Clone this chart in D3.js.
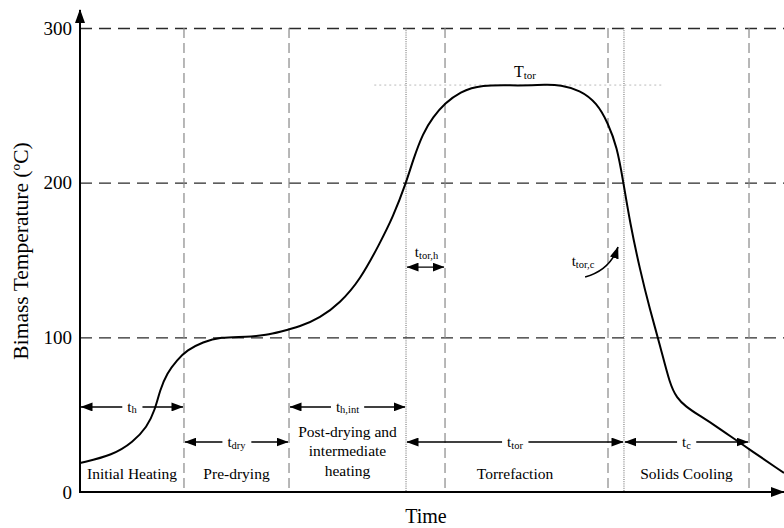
<!DOCTYPE html>
<html>
<head>
<meta charset="utf-8">
<script src="https://cdn.jsdelivr.net/npm/d3@7"></script>
<style>
  html, body { margin: 0; padding: 0; background: #fff; }
  svg { display: block; font-family: "Liberation Serif", "DejaVu Serif", serif; }
</style>
</head>
<body>
<svg id="chart" width="784" height="528"></svg>
<script>
// ---------- data ----------
const yTicks = [0, 100, 200, 300];
const gridTemps = [100, 200, 300];
const dashedTimes = [14.77, 29.69, 51.85, 75.0, 95.03];
const dottedTimes = [46.31, 77.27];

const curveTime = [0, 4.69, 7.53, 9.52, 10.65, 11.36, 12.36, 13.78, 15.2, 17.47, 19.89, 23.72, 26.56, 28.41, 31.25, 34.09, 36.93, 39.77, 42.61, 44.46, 46.31, 47.3, 48.72, 50.14, 51.85, 53.98, 56.82, 62.5, 66.34, 68.18, 71.02, 73.44, 75.0, 76.28, 77.13, 78.13, 79.55, 80.97, 82.39, 83.81, 84.8, 85.94, 88.07, 89.91, 93.75, 100];
const curveTemp = [18.7, 23.9, 32.3, 42.0, 53.0, 65.9, 76.9, 85.3, 91.8, 97.0, 100.2, 100.2, 101.5, 103.6, 106.9, 112.5, 122.2, 137.0, 161.0, 177.8, 199.7, 214.6, 232.1, 242.4, 251.5, 258.6, 263.5, 262.6, 263.5, 263.1, 259.9, 251.5, 238.5, 223.0, 201.7, 173.9, 143.5, 117.6, 95.0, 69.2, 60.8, 55.6, 49.1, 44.0, 31.7, 12.3];

const phaseNames = [["Initial Heating"], ["Pre-drying"], ["Post-drying and", "intermediate", "heating"], ["Torrefaction"], ["Solids Cooling"]];
const phaseStart = [0, 14.77, 29.69, 46.31, 77.27];
const phaseEnd   = [14.77, 29.69, 46.31, 77.27, 95.03];

const intervalMain = ["t", "t", "t", "t", "t", "t"];
const intervalSub  = ["h", "dry", "h,int", "tor", "c", "tor,h"];
const intervalFrom = [0, 14.77, 29.69, 46.31, 77.27, 46.31];
const intervalTo   = [14.77, 29.69, 46.31, 77.27, 95.03, 51.85];
const intervalTemp = [55, 32.3, 55, 32.3, 32.3, 145.4];

const torTemp = 263.1;
const torLineFrom = 41.8, torLineTo = 83.0;

// ---------- layout ----------
const svg = d3.select("#chart");
const x = d3.scaleLinear().domain([0, 100]).range([80, 784]);
const y = d3.scaleLinear().domain([0, 300]).range([492, 28]);

const defs = svg.append("defs");
defs.append("marker").attr("id", "ah")
  .attr("markerUnits", "userSpaceOnUse")
  .attr("markerWidth", 12).attr("markerHeight", 9)
  .attr("refX", 11.5).attr("refY", 4.5)
  .attr("orient", "auto-start-reverse")
  .append("path").attr("d", "M0,0 L12,4.5 L0,9 Z").attr("fill", "#000");
defs.append("marker").attr("id", "axh")
  .attr("markerUnits", "userSpaceOnUse")
  .attr("markerWidth", 14).attr("markerHeight", 10)
  .attr("refX", 13).attr("refY", 5)
  .attr("orient", "auto")
  .append("path").attr("d", "M0,0 L14,5 L0,10 Z").attr("fill", "#000");

// horizontal dashed gridlines (via axis)
const grid = svg.append("g")
  .attr("transform", `translate(${x(0)},0)`)
  .call(d3.axisLeft(y).tickValues(gridTemps).tickSize(-(x(100) - x(0))).tickFormat(""));
grid.select(".domain").remove();
grid.selectAll(".tick line")
  .attr("stroke", "#2a2a2a").attr("stroke-width", 1.3).attr("stroke-dasharray", "12,7");

// vertical dashed lines
svg.append("g").selectAll("line").data(dashedTimes).join("line")
  .attr("x1", d => x(d)).attr("x2", d => x(d))
  .attr("y1", y(300)).attr("y2", y(0))
  .attr("stroke", "#888").attr("stroke-width", 1.2).attr("stroke-dasharray", "10,5");

// vertical dotted lines
svg.append("g").selectAll("line").data(dottedTimes).join("line")
  .attr("x1", d => x(d)).attr("x2", d => x(d))
  .attr("y1", y(300)).attr("y2", y(0))
  .attr("stroke", "#666").attr("stroke-width", 1).attr("stroke-dasharray", "1,1.2");

// T_tor dotted line
svg.append("line")
  .attr("x1", x(torLineFrom)).attr("x2", x(torLineTo))
  .attr("y1", y(torTemp)).attr("y2", y(torTemp))
  .attr("stroke", "#bbb").attr("stroke-width", 1).attr("stroke-dasharray", "2,3");

// y tick labels (axis)
const yAxis = svg.append("g")
  .attr("transform", `translate(${x(0)},0)`)
  .call(d3.axisLeft(y).tickValues(yTicks).tickSize(0).tickPadding(8));
yAxis.select(".domain").remove();
yAxis.selectAll("text")
  .attr("font-family", "Liberation Serif, DejaVu Serif, serif")
  .attr("font-size", 19).attr("fill", "#000");

// axes lines with arrows
svg.append("line")
  .attr("x1", x(0)).attr("x2", x(0)).attr("y1", y(0) + 1).attr("y2", 10)
  .attr("stroke", "#000").attr("stroke-width", 2).attr("marker-end", "url(#axh)");
svg.append("line")
  .attr("x1", x(0) - 1).attr("x2", 784).attr("y1", y(0)).attr("y2", y(0))
  .attr("stroke", "#000").attr("stroke-width", 2).attr("marker-end", "url(#axh)");

// axis titles
svg.append("text")
  .attr("transform", `translate(28,251) rotate(-90)`)
  .attr("text-anchor", "middle").attr("font-size", 21.5)
  .text("Bimass Temperature (ºC)");
svg.append("text")
  .attr("x", 426).attr("y", 523)
  .attr("text-anchor", "middle").attr("font-size", 20)
  .text("Time");

// curve
const pts = curveTime.map((t, i) => [t, curveTemp[i]]);
svg.append("path")
  .datum(pts)
  .attr("fill", "none").attr("stroke", "#000").attr("stroke-width", 2)
  .attr("d", d3.line().x(d => x(d[0])).y(d => y(d[1])).curve(d3.curveBasis));

// phase labels
phaseNames.forEach((lines, i) => {
  const cx = (x(phaseStart[i]) + x(phaseEnd[i])) / 2;
  const n = lines.length;
  lines.forEach((s, j) => {
    svg.append("text")
      .attr("x", cx).attr("y", 479 - (n - 1 - j) * 19.2 - (n > 1 ? 3.5 : 0))
      .attr("text-anchor", "middle").attr("font-size", 15.5)
      .text(s);
  });
});

// subscript label helper
function subLabel(g, cx, baseline, main, sub, mainSize, subSize, bg) {
  const t = g.append("text").attr("x", cx).attr("y", baseline)
    .attr("text-anchor", "middle").attr("font-size", mainSize);
  t.append("tspan").text(main);
  t.append("tspan").attr("font-size", subSize).attr("dy", 1.5).text(sub);
  if (bg) {
    const bb = t.node().getBBox();
    g.insert("rect", () => t.node())
      .attr("x", bb.x - 5).attr("y", bb.y + 2).attr("width", bb.width + 10).attr("height", bb.height - 4)
      .attr("fill", "#fff");
  }
  return t;
}

// interval arrows
intervalSub.forEach((sub, i) => {
  const g = svg.append("g");
  const yy = y(intervalTemp[i]);
  g.append("line")
    .attr("x1", x(intervalFrom[i]) + 1).attr("x2", x(intervalTo[i]) - 1)
    .attr("y1", yy).attr("y2", yy)
    .attr("stroke", "#000").attr("stroke-width", 1.4)
    .attr("marker-start", "url(#ah)").attr("marker-end", "url(#ah)");
  const cx = (x(intervalFrom[i]) + x(intervalTo[i])) / 2;
  if (i === 5) {
    subLabel(g, cx + 1, yy - 10, intervalMain[i], sub, 15, 10.5, false);
  } else {
    subLabel(g, cx, yy + 5, intervalMain[i], sub, 15, 10.5, true);
  }
});

// T_tor label
subLabel(svg, x(63.2), y(torTemp) - 8, "T", "tor", 16, 11, false);

// t_tor,c curved arrow
const cStart = [71.75, 139.0], cCtrl = [75.3, 143.5], cEnd = [76.42, 158.4];
const cp = d3.path();
cp.moveTo(x(cStart[0]), y(cStart[1]));
cp.quadraticCurveTo(x(cCtrl[0]), y(cCtrl[1]), x(cEnd[0]), y(cEnd[1]));
svg.append("path").attr("d", cp.toString())
  .attr("fill", "none").attr("stroke", "#000").attr("stroke-width", 1.6)
  .attr("marker-end", "url(#ah)");
subLabel(svg, 583, 266, "t", "tor,c", 15, 10.5, false);
</script>
</body>
</html>
